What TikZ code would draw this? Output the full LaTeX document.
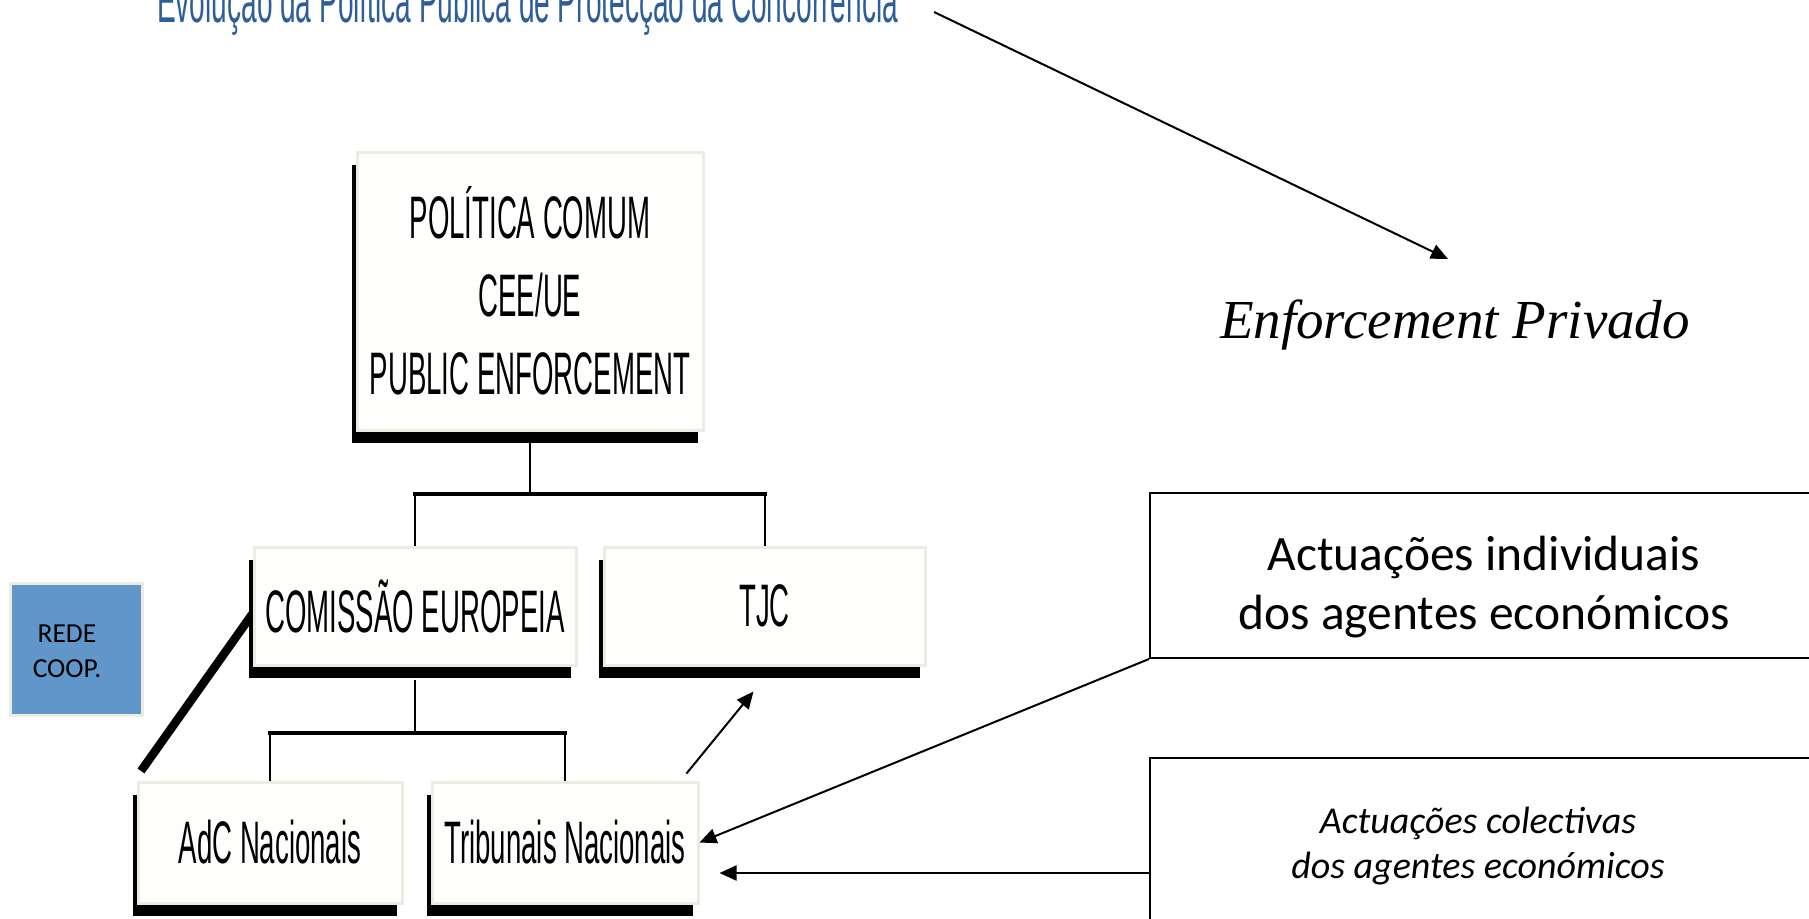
\documentclass[tikz,border=0pt]{standalone}
\usepackage{fontspec}
\setmainfont{Liberation Sans}
\newfontfamily\narrowfont[FakeStretch=0.46]{Liberation Sans}
\newfontfamily\calib{Carlito}
\newfontfamily\timesit{Liberation Serif}
\usetikzlibrary{arrows.meta,shadows,calc}
\definecolor{titleblue}{HTML}{2D5E9B}
\definecolor{boxedge}{HTML}{ECECE2}
\definecolor{boxfill}{HTML}{FEFEFC}
\definecolor{redeblue}{HTML}{6096C9}
\begin{document}
\begin{tikzpicture}[x=1pt,y=-1pt,
  orgbox/.style={draw=boxedge, line width=3pt, fill=boxfill, inner sep=0pt,
    drop shadow={shadow xshift=-5pt,shadow yshift=-13pt,fill=black,opacity=1},
    font=\narrowfont\fontsize{60}{78}\selectfont, align=center},
  conn/.style={line width=2pt},
  barline/.style={line width=4pt, line cap=rect},
  arr/.style={line width=2pt, -{Triangle[length=17pt,width=15pt]}},
  sidebox/.style={draw=black, line width=2pt, fill=white, inner sep=0pt},
]
\clip (0,0) rectangle (1809,918);
\fill[white] (0,0) rectangle (1809,918);

% title
\node[anchor=base west, inner sep=0pt, text=titleblue,
  font=\narrowfont\fontsize{61}{70}\selectfont] (title) at (157,22)
  {Evolução da Política Pública de Protecção da Concorrência};
\node[anchor=base, inner sep=0pt, font=\timesit\itshape\fontsize{55}{60}\selectfont]
  (enf) at (1455,338) {Enforcement Privado};
\coordinate (ta) at (934,12);
\coordinate (tb) at (1448,259);
\draw[arr] (ta) -- (tb);

% thick cooperation line (under the boxes)
\coordinate (k) at (141,771);
\draw[line width=8.5pt] (253,613) -- (k);

% org chart boxes
\node[orgbox, minimum width=346pt, minimum height=278pt] (top) at (530,291)
  {POLÍTICA COMUM\\CEE/UE\\PUBLIC ENFORCEMENT};
\node[orgbox, minimum width=322pt, minimum height=118pt] (ce) at (415,606)
  {COMISSÃO EUROPEIA};
\node[orgbox, minimum width=321pt, minimum height=118pt] (tjc) at (764.5,606)
  {TJC};
\node[orgbox, minimum width=264pt, minimum height=121pt] (adc) at (270,842.5)
  {AdC Nacionais};
\node[orgbox, minimum width=266pt, minimum height=121pt] (trib) at (565,842.5)
  {Tribunais Nacionais};

% org connectors
\coordinate (j1) at (530,494);
\coordinate (j2) at (415,733);
\draw[conn] (top.south) -- (top.south |- j1);
\draw[barline] (ce.north |- j1) -- (tjc.north |- j1);
\draw[conn] (ce.north |- j1) -- (ce.north);
\draw[conn] (tjc.north |- j1) -- (tjc.north);
\draw[conn] ([yshift=-13pt]ce.south) -- (ce.south |- j2);
\draw[barline] (adc.north |- j2) -- (trib.north |- j2);
\draw[conn] (adc.north |- j2) -- (adc.north);
\draw[conn] (trib.north |- j2) -- (trib.north);

% rede coop
\node[draw=boxedge, line width=3pt, fill=redeblue, minimum width=132pt,
  minimum height=132pt, inner sep=0pt] (rede) at (76,649) {};
\node[font=\calib\fontsize{27.5}{35}\selectfont, align=center, inner sep=0pt]
  (redet) at (67,651) {REDE\\COOP.};

% arrow trib -> tjc
\draw[arr] ($(trib.north east)+(-13,-7)$) -- ($(tjc.south)+(-11,25)$);

% right side boxes
\node[sidebox, minimum width=668pt, minimum height=165pt] (box1) at (1484,575.5) {};
\node[font=\calib\fontsize{49.5}{59}\selectfont, align=center, inner sep=0pt]
  (box1t) at (1484,587) {Actuações individuais\\dos agentes económicos};
\node[sidebox, minimum width=668pt, minimum height=230pt] (box2) at (1484,873) {};
\node[font=\calib\itshape\fontsize{38}{45}\selectfont, align=center, inner sep=0pt]
  (box2t) at (1478,846) {Actuações colectivas\\dos agentes económicos};

\draw[arr] (box1.south west) -- (trib.east);
\draw[arr, shorten >=20pt] (box2.west) -- (trib.east |- box2.west);
\end{tikzpicture}
\end{document}
